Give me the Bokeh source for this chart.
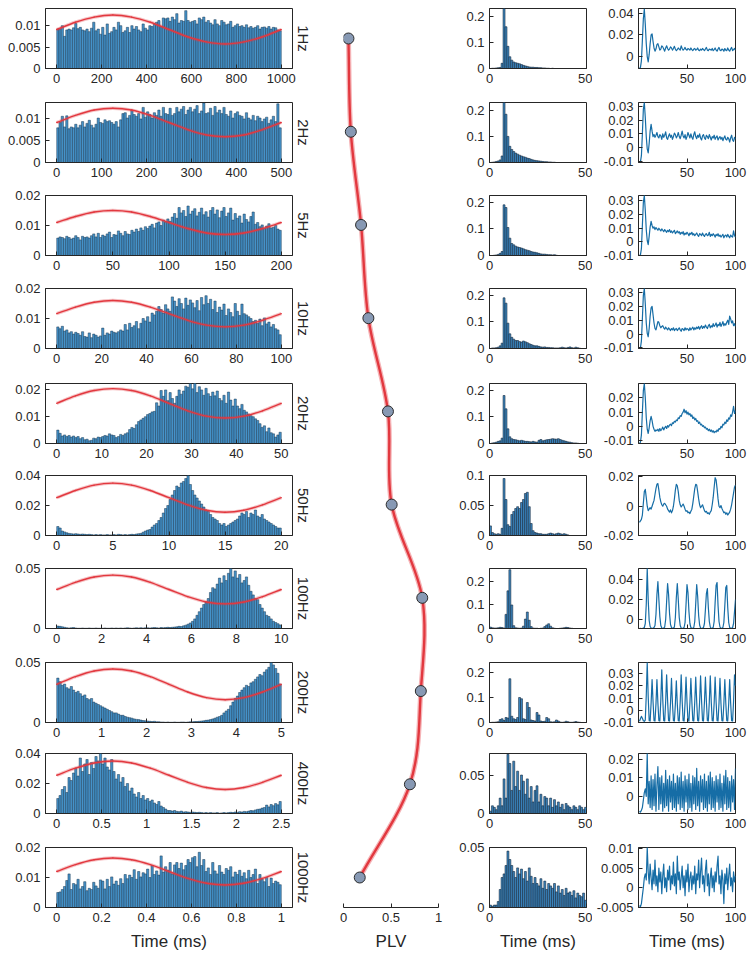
import numpy as np
from bokeh.plotting import figure
from bokeh.layouts import row, column
from bokeh.models import Range1d, FixedTicker, Title, CustomJSTickFormatter
from bokeh.embed import file_html
from bokeh.resources import INLINE

# ---------------- data ----------------
rate_labels = ["1Hz", "2Hz", "5Hz", "10Hz", "20Hz", "50Hz", "100Hz", "200Hz", "400Hz", "1000Hz"]

# column 1: spike-phase histograms (one stimulus period), values x 1e-4
phase_span = [1000, 500, 200, 100, 50, 20, 10, 5, 2.5, 1]
phase_xstep = [200, 100, 50, 20, 10, 5, 2, 1, 0.5, 0.2]
phase_ytop = [0.014, 0.0135, 0.02, 0.02, 0.0224, 0.04, 0.05, 0.05, 0.04, 0.02]
phase_yticks = [[0, 0.005, 0.01], [0, 0.005, 0.01], [0, 0.01, 0.02], [0, 0.01, 0.02],
                [0, 0.01, 0.02], [0, 0.02, 0.04], [0, 0.05], [0, 0.05],
                [0, 0.02, 0.04], [0, 0.01, 0.02]]

ph_1 = [92, 93, 100, 75, 90, 92, 90, 95, 105, 93, 96, 90, 88, 92, 86, 94, 108, 88, 92, 80,
        96, 78, 104, 82, 86, 96, 90, 108, 100, 84, 88, 96, 84, 100, 92, 98, 90, 86, 104, 94,
        90, 100, 98, 104, 108, 112, 98, 118, 116, 118, 110, 120, 114, 128, 106, 112, 110, 135, 112, 108,
        110, 112, 104, 118, 114, 120, 108, 112, 106, 102, 114, 104, 100, 112, 108, 102, 104, 110, 96, 100,
        104, 98, 100, 96, 102, 95, 98, 94, 96, 100, 92, 96, 97, 94, 98, 92, 96, 95, 90, 88]
ph_2 = [78, 90, 104, 80, 105, 76, 80, 78, 86, 78, 84, 92, 80, 88, 95, 84, 78, 86, 100, 90,
        88, 96, 92, 94, 90, 86, 92, 80, 96, 110, 112, 100, 106, 118, 108, 104, 110, 98, 124, 102,
        114, 108, 100, 112, 106, 118, 104, 124, 110, 108, 122, 106, 110, 124, 114, 120, 126, 108, 118, 124,
        114, 120, 128, 110, 116, 134, 110, 112, 122, 106, 126, 112, 118, 110, 124, 108, 104, 116, 100, 110,
        114, 106, 104, 98, 112, 100, 96, 106, 94, 104, 100, 92, 98, 102, 88, 96, 104, 92, 132, 78]
ph_3 = [58, 62, 60, 56, 64, 60, 55, 58, 66, 60, 52, 64, 60, 62, 58, 66, 72, 62, 74, 60,
        68, 64, 72, 78, 60, 70, 68, 82, 74, 66, 80, 72, 70, 84, 78, 88, 80, 92, 84, 96,
        90, 98, 104, 92, 108, 112, 100, 118, 110, 122, 114, 128, 140, 124, 160, 142, 150, 130, 165, 138,
        148, 156, 132, 144, 158, 136, 146, 128, 150, 160, 138, 152, 126, 148, 160, 130, 142, 158, 118, 140,
        124, 132, 108, 138, 120, 112, 130, 145, 104, 110, 96, 102, 90, 98, 106, 92, 94, 100, 88, 84]
ph_4 = [72, 66, 74, 58, 62, 52, 56, 48, 54, 50, 44, 56, 40, 38, 52, 36, 48, 44, 38, 42,
        68, 44, 52, 48, 58, 54, 52, 56, 62, 58, 80, 62, 84, 70, 76, 90, 66, 84, 100, 92,
        106, 88, 118, 112, 124, 140, 130, 118, 146, 132, 124, 172, 158, 140, 166, 150, 132, 168, 144, 162,
        152, 136, 160, 126, 170, 146, 176, 150, 164, 130, 158, 120, 138, 128, 148, 110, 132, 120, 106, 150,
        124, 110, 148, 116, 112, 106, 100, 90, 94, 84, 98, 76, 102, 82, 88, 72, 80, 66, 62, 46]
ph_5 = [50, 38, 28, 32, 26, 30, 24, 28, 22, 26, 18, 22, 14, 16, 10, 12, 20, 18, 24, 22,
        26, 30, 28, 36, 32, 30, 22, 26, 34, 30, 36, 40, 52, 60, 56, 70, 82, 88, 94, 100,
        108, 112, 118, 120, 152, 140, 198, 176, 200, 160, 190, 168, 150, 176, 200, 184, 196, 214, 210, 224,
        204, 226, 190, 212, 200, 180, 206, 186, 176, 192, 178, 196, 168, 160, 180, 150, 192, 162, 140, 166,
        140, 130, 146, 124, 118, 110, 104, 100, 92, 86, 74, 60, 66, 44, 58, 40, 36, 24, 32, 42]
ph_6 = [60, 50, 30, 24, 18, 14, 12, 10, 12, 10, 8, 10, 8, 6, 8, 6, 4, 6, 4, 6,
        4, 4, 6, 4, 4, 6, 4, 8, 6, 4, 6, 4, 6, 8, 6, 10, 12, 14, 22, 30,
        36, 40, 56, 70, 80, 100, 120, 150, 180, 200, 240, 270, 300, 330, 320, 350, 360, 380, 400, 340,
        300, 270, 250, 230, 210, 190, 170, 160, 140, 120, 110, 100, 80, 70, 80, 60, 70, 80, 90, 100,
        110, 130, 150, 140, 160, 120, 150, 140, 170, 130, 120, 140, 110, 100, 90, 80, 70, 60, 50, 50]
ph_7 = [20, 18, 14, 10, 6, 4, 6, 8, 4, 2, 2, 4, 2, 2, 4, 2, 2, 4, 2, 2,
        2, 4, 2, 2, 4, 2, 4, 2, 4, 2, 4, 6, 4, 2, 4, 6, 4, 6, 4, 6,
        6, 4, 6, 8, 6, 4, 8, 6, 8, 10, 8, 10, 12, 14, 18, 16, 22, 28, 36, 46,
        60, 80, 110, 140, 170, 200, 220, 250, 300, 340, 330, 370, 420, 380, 440, 400, 460, 500, 430, 480,
        420, 450, 380, 400, 430, 360, 310, 280, 250, 240, 200, 170, 140, 110, 100, 80, 60, 50, 40, 30]
ph_8 = [370, 340, 310, 320, 290, 280, 300, 270, 250, 260, 240, 220, 230, 200, 190, 200, 170, 160, 150, 140,
        130, 120, 110, 100, 90, 80, 80, 70, 60, 60, 50, 44, 40, 36, 30, 26, 24, 20, 16, 14,
        12, 10, 8, 10, 6, 6, 4, 4, 2, 4, 2, 2, 4, 2, 2, 4, 4, 2, 4, 6,
        6, 8, 8, 10, 12, 14, 18, 20, 24, 30, 36, 44, 50, 60, 80, 96, 110, 140, 170, 200,
        220, 250, 270, 290, 310, 300, 330, 340, 360, 380, 400, 390, 420, 440, 460, 500, 480, 450, 410, 320]
ph_9 = [100, 120, 160, 180, 140, 240, 220, 270, 300, 250, 370, 280, 330, 360, 260, 340, 300, 380, 350, 400,
        330, 370, 310, 290, 360, 280, 230, 260, 210, 240, 180, 200, 150, 170, 130, 110, 140, 100, 120, 90,
        100, 80, 90, 70, 60, 80, 50, 40, 30, 20, 20, 16, 20, 14, 12, 16, 10, 12, 10, 8,
        10, 8, 6, 8, 6, 4, 6, 4, 6, 4, 4, 6, 2, 4, 6, 4, 6, 8, 6, 10,
        8, 12, 10, 14, 12, 16, 20, 18, 24, 28, 30, 36, 40, 56, 44, 60, 52, 66, 58, 80]
ph_10 = [50, 52, 60, 70, 90, 112, 60, 80, 76, 94, 62, 70, 86, 56, 64, 60, 84, 72, 64, 92,
         88, 62, 94, 70, 102, 78, 88, 74, 96, 80, 110, 96, 108, 100, 126, 94, 120, 102, 116, 112,
         128, 100, 140, 110, 122, 108, 172, 118, 136, 124, 150, 112, 142, 150, 130, 148, 126, 140, 160, 150,
         166, 170, 136, 184, 140, 160, 120, 132, 110, 150, 122, 112, 140, 118, 110, 130, 124, 136, 102, 118,
         110, 124, 104, 116, 96, 124, 100, 110, 128, 80, 110, 94, 86, 100, 70, 98, 80, 88, 84, 76]
phase_hists = [ph_1, ph_2, ph_3, ph_4, ph_5, ph_6, ph_7, ph_8, ph_9, ph_10]

# red fitted curve, sampled at 13 evenly spaced phases, x 1e-4
fit_1 = [91, 108, 120, 125, 120, 108, 91, 74, 62, 57, 62, 74, 91]
fit_2 = [90, 106, 118, 122, 118, 106, 90, 74, 62, 58, 62, 74, 90]
fit_3 = [110, 130, 145, 150, 145, 130, 110, 90, 75, 70, 75, 90, 110]
fit_4 = [116, 138, 154, 160, 154, 138, 116, 94, 78, 72, 78, 94, 116]
fit_5 = [150, 178, 198, 205, 198, 178, 150, 122, 102, 95, 102, 122, 150]
fit_6 = [252, 300, 336, 349, 336, 300, 252, 204, 168, 155, 168, 204, 252]
fit_7 = [325, 385, 429, 445, 429, 385, 325, 265, 221, 205, 221, 265, 325]
fit_8 = [318, 382, 429, 446, 429, 382, 318, 254, 207, 190, 207, 254, 318]
fit_9 = [255, 302, 337, 350, 337, 302, 255, 208, 173, 160, 173, 208, 255]
fit_10 = [120, 143, 159, 165, 159, 143, 120, 97, 81, 75, 81, 97, 120]
phase_fits = [fit_1, fit_2, fit_3, fit_4, fit_5, fit_6, fit_7, fit_8, fit_9, fit_10]

# column 2: phase-locking value per stimulation rate
plv = [0.052, 0.077, 0.185, 0.262, 0.468, 0.507, 0.829, 0.814, 0.699, 0.171]

# column 3: inter-spike-interval histograms, 1 ms bins 0-50 ms, values x 1e-3
isi_ytop = [0.23, 0.23, 0.225, 0.225, 0.225, 0.1, 0.255, 0.24, 0.078, 0.05]
isi_yticks = [[0, 0.1, 0.2]] * 5 + [[0, 0.05, 0.1], [0, 0.1, 0.2], [0, 0.1, 0.2], [0, 0.05], [0, 0.05]]
isi_1 = [0, 1, 1, 2, 3, 4, 20, 230, 160, 85, 45, 32, 25, 22, 20, 18, 15, 12, 10, 8,
         6, 5, 5, 4, 4, 3, 3, 2, 2, 1, 1, 0, 1, 0, 0, 0, 0, 0, 0, 0, 0, 0, 0, 0, 0, 0, 0, 0, 0, 0]
isi_2 = [0, 1, 2, 4, 6, 10, 25, 230, 185, 100, 62, 50, 42, 36, 32, 28, 25, 22, 20, 17,
         15, 12, 10, 8, 7, 6, 5, 4, 3, 3, 2, 2, 1, 1, 0, 0, 0, 0, 0, 0, 0, 0, 0, 0, 0, 0, 0, 0, 0, 0]
isi_3 = [0, 0, 1, 2, 4, 8, 15, 190, 180, 105, 65, 45, 40, 35, 32, 30, 28, 25, 22, 20,
         18, 15, 13, 12, 10, 8, 6, 5, 5, 4, 3, 3, 2, 3, 1, 0, 0, 0, 0, 0, 0, 0, 0, 0, 0, 0, 0, 0, 0, 0]
isi_4 = [0, 2, 2, 3, 5, 10, 20, 190, 170, 95, 55, 42, 35, 30, 30, 26, 24, 28, 25, 22,
         18, 15, 12, 10, 10, 8, 6, 5, 6, 4, 4, 3, 3, 2, 2, 2, 3, 5, 3, 2, 4, 6, 3, 2, 5, 3, 1, 0, 0, 0]
isi_5 = [0, 2, 3, 5, 8, 10, 20, 180, 130, 55, 25, 18, 15, 14, 12, 10, 12, 10, 8, 8,
         7, 6, 8, 6, 5, 12, 15, 10, 12, 14, 15, 16, 18, 17, 16, 18, 15, 12, 10, 8, 6, 5, 3, 2, 2, 1, 0, 0, 0, 0]
isi_6 = [16, 5, 3, 2, 3, 2, 12, 95, 60, 18, 15, 35, 40, 45, 48, 45, 55, 60, 70, 72,
         48, 20, 8, 5, 4, 3, 3, 2, 2, 2, 3, 4, 3, 2, 3, 4, 3, 2, 3, 2, 1, 0, 0, 0, 0, 0, 0, 0, 0, 0]
isi_7 = [6, 3, 2, 2, 3, 5, 4, 2, 60, 160, 250, 100, 12, 3, 2, 1, 2, 10, 40, 70,
         35, 8, 2, 1, 1, 0, 1, 2, 8, 15, 20, 10, 3, 1, 0, 0, 1, 2, 3, 5, 4, 2, 1, 0, 0, 0, 0, 0, 0, 0]
isi_8 = [0, 1, 1, 2, 3, 12, 15, 8, 20, 18, 175, 25, 15, 12, 20, 100, 95, 15, 12, 80,
         60, 10, 8, 6, 40, 30, 6, 4, 5, 20, 15, 3, 2, 3, 10, 6, 2, 1, 2, 5, 3, 1, 1, 2, 4, 2, 1, 0, 0, 0]
isi_9 = [3, 10, 8, 5, 10, 20, 10, 45, 20, 77, 65, 30, 68, 35, 55, 30, 50, 42, 25, 45,
         20, 35, 15, 30, 36, 15, 25, 10, 22, 20, 10, 20, 8, 18, 10, 15, 8, 12, 5, 13,
         10, 8, 5, 10, 8, 5, 10, 8, 5, 8]
isi_10 = [2, 1, 2, 2, 5, 15, 25, 28, 35, 47, 40, 35, 30, 25, 33, 28, 32, 24, 30, 22,
          33, 26, 20, 25, 20, 18, 24, 16, 22, 15, 20, 18, 16, 20, 13, 18, 12, 15, 10, 16,
          12, 13, 10, 14, 8, 12, 10, 9, 12, 6]
isi_hists = [isi_1, isi_2, isi_3, isi_4, isi_5, isi_6, isi_7, isi_8, isi_9, isi_10]

# column 4: autocorrelation traces, 1 ms steps 1-100 ms, values x 1e-4
ac_yrange = [(-0.011, 0.0445), (-0.011, 0.033), (-0.01, 0.034), (-0.0105, 0.033), (-0.012, 0.03),
             (-0.02, 0.021), (-0.009, 0.051), (-0.01, 0.039), (-0.0092, 0.023), (-0.005, 0.0102)]
ac_yticks = [[0, 0.02, 0.04], [-0.01, 0, 0.01, 0.02, 0.03], [-0.01, 0, 0.01, 0.02, 0.03],
             [-0.01, 0, 0.01, 0.02, 0.03], [-0.01, 0, 0.01, 0.02], [-0.02, 0, 0.02],
             [0, 0.02, 0.04], [-0.01, 0, 0.01, 0.02, 0.03], [0, 0.01, 0.02], [-0.005, 0, 0.005, 0.01]]
ac_1 = [-110, -100, -40, 150, 350, 440, 300, 120, 0, -50, 20, 120, 200, 210, 140, 80, 50, 70, 110, 120,
        90, 60, 70, 100, 90, 70, 50, 80, 100, 75, 60, 70, 90, 80, 60, 75, 95, 70, 55, 65,
        80, 70, 60, 100, 75, 60, 70, 85, 65, 60, 75, 70, 60, 80, 65, 55, 70, 75, 60, 65,
        80, 60, 55, 70, 60, 75, 65, 55, 70, 85, 60, 55, 70, 65, 60, 75, 55, 65, 80, 60,
        50, 70, 85, 60, 55, 70, 65, 50, 75, 60, 55, 80, 60, 50, 70, 85, 55, 65, 75, 60]
ac_2 = [-110, -105, -60, 100, 280, 330, 220, 80, -10, -40, 30, 120, 170, 120, 80, 95, 75, 90, 110, 80,
        70, 95, 85, 60, 100, 75, 90, 115, 70, 60, 85, 100, 75, 90, 60, 80, 105, 95, 70, 85,
        110, 80, 65, 90, 120, 85, 70, 95, 60, 80, 110, 90, 70, 100, 75, 60, 95, 115, 80, 65,
        90, 75, 100, 70, 55, 85, 95, 70, 60, 90, 80, 65, 95, 75, 55, 80, 70, 90, 60, 75,
        85, 55, 70, 80, 60, 75, 50, 70, 85, 60, 55, 75, 65, 40, 70, 90, 55, 45, 75, 60]
ac_3 = [-100, -95, -50, 120, 290, 340, 230, 90, 10, -20, 40, 110, 150, 120, 100, 110, 90, 105, 95, 85,
        100, 90, 80, 95, 85, 75, 90, 80, 70, 85, 75, 90, 70, 80, 65, 75, 85, 60, 70, 80,
        65, 75, 55, 70, 60, 75, 50, 65, 55, 70, 60, 45, 65, 55, 70, 50, 60, 45, 55, 65,
        50, 40, 60, 55, 45, 65, 50, 40, 55, 60, 45, 50, 70, 40, 55, 45, 60, 50, 35, 55,
        45, 60, 40, 50, 35, 45, 55, 30, 45, 50, 35, 55, 40, 30, 50, 40, 35, 80, 45, 35]
ac_4 = [-105, -100, -50, 110, 280, 330, 220, 80, 5, -20, 40, 130, 190, 200, 140, 80, 40, 30, 60, 90,
        85, 60, 45, 55, 60, 45, 35, 50, 40, 30, 45, 35, 25, 40, 30, 45, 25, 35, 40, 25,
        35, 45, 30, 20, 40, 35, 25, 45, 30, 40, 35, 25, 45, 30, 40, 50, 30, 45, 35, 50,
        40, 55, 35, 50, 60, 40, 55, 45, 65, 50, 40, 60, 70, 45, 60, 50, 75, 55, 65, 80,
        50, 70, 60, 85, 55, 70, 90, 60, 75, 65, 85, 100, 70, 130, 110, 80, 95, 60, 75, 55]
ac_5 = [-120, -110, -60, 100, 250, 300, 200, 60, -20, -50, -10, 40, 70, 40, 0, -20, -35, -25, -30, -20,
        -35, -15, -30, -20, -5, -25, -10, 0, -15, 5, -5, 10, 15, 5, 25, 20, 35, 30, 45, 40,
        60, 55, 75, 70, 90, 100, 120, 95, 110, 85, 100, 80, 90, 70, 80, 55, 65, 45, 55, 35,
        40, 20, 30, 10, 15, 0, 5, -10, -5, -20, -15, -30, -20, -35, -25, -40, -30, -45, -35, -40,
        -25, -35, -15, -20, 0, -10, 15, 10, 30, 20, 45, 35, 60, 50, 80, 70, 100, 140, 90, 110]
ac_6 = [-110, -100, -90, -60, 20, 100, 115, 60, 0, -30, -20, -10, -20, 0, 20, 40, 80, 120, 150, 155,
        110, 60, 30, 10, 0, 15, 20, 10, 0, -20, -30, -40, -25, -45, -30, 0, 50, 110, 150, 140,
        100, 40, 10, -5, 5, 15, 0, -20, -35, -30, -45, -40, -50, -35, -20, 20, 70, 120, 150, 145,
        100, 50, 10, -10, 0, 10, -10, -30, -40, -35, -50, -45, -55, -40, -30, 10, 60, 130, 195, 180,
        120, 50, 0, -10, 5, -15, -30, -45, -40, -55, -45, -60, -50, -40, -20, 10, 50, 90, 130, 145]
ac_7 = [-90, -88, -90, -88, -85, -80, -40, 150, 510, 200, -10, -70, -85, -88, -85, -80, -60, 50, 250, 380,
        200, 30, -60, -85, -88, -85, -75, 0, 180, 360, 250, 60, -50, -80, -88, -85, -75, 20, 220, 360,
        200, 20, -60, -85, -88, -85, -80, -30, 150, 350, 270, 80, -40, -80, -88, -85, -80, -20, 160, 350,
        230, 40, -55, -85, -88, -85, -80, -40, 100, 260, 310, 120, -20, -75, -88, -85, -80, -20, 170, 340,
        370, 140, -20, -75, -88, -85, -80, -30, 140, 320, 340, 120, -30, -80, -88, -85, -80, -40, 80, 200]
ac_8 = [-90, -70, -50, -65, -85, -90, -80, 120, 390, 110, -85, -88, 60, 250, 70, -85, -88, 50, 250, 60,
        -85, -88, 80, 330, 90, -85, -88, 70, 290, 80, -85, -88, 60, 260, 60, -85, -88, 50, 240, 50,
        -85, -88, 70, 290, 80, -85, -88, 60, 270, 70, -85, -88, 60, 260, 70, -85, -88, 70, 270, 70,
        -85, -88, 70, 280, 80, -85, -88, 70, 270, 70, -85, -88, 70, 280, 70, -85, -88, 60, 270, 70,
        -85, -88, 60, 260, 60, -85, -88, 55, 250, 60, -85, -88, 55, 250, 60, -85, -88, 70, 290, 200]
ac_9 = [-80, -85, -75, -60, -20, 20, 40, 0, 230, -40, 80, -60, 110, -70, 90, -50, 120, -80, 60, 160,
        -70, 100, -40, 110, -80, 70, -60, 140, -50, 90, -80, 110, -30, 80, -70, 120, -60, 70, -80, 110,
        -40, 100, -70, 130, -60, 80, -80, 110, -30, 90, -70, 120, -60, 70, -80, 110, -40, 100, -70, 150,
        -50, 80, -80, 110, -30, 90, -70, 120, -60, 80, -80, 110, -40, 130, -70, 100, -60, 80, -80, 110,
        -30, 90, -70, 120, -60, 70, -80, 110, -40, 140, -70, 100, -60, 80, -80, 110, -30, 90, -70, 150]
ac_10 = [-45, -48, -40, -20, 0, 25, 35, 20, 102, 40, 10, 60, 25, -5, 45, 10, 70, 5, 30, -10,
         50, 15, 40, -15, 30, 60, 0, 25, -10, 45, 20, 55, -5, 30, 10, 65, 5, 35, -15, 80,
         20, 40, -5, 25, 55, 0, 30, -20, 45, 15, 60, -10, 25, 40, -5, 30, 10, 55, -15, 35,
         20, 70, 0, 40, 75, 10, 30, -10, 45, 70, 5, 35, -20, 25, 50, 0, 30, -10, 40, 15,
         55, 80, 10, 30, -15, 45, 20, -40, 35, 10, 50, -5, 30, 60, 5, 25, -10, 40, 15, 30]
ac_traces = [ac_1, ac_2, ac_3, ac_4, ac_5, ac_6, ac_7, ac_8, ac_9, ac_10]

# ---------------- style / layout ----------------
FONT = "Liberation Sans"
INK = "#262626"
BAR_FILL = "#4593CA"
BAR_LINE = "#1B3852"
RED = "#E2383F"
RED_HALO = "#F5B3B6"
TRACE = "#166DA6"

ROW_H = [94, 93, 93, 95, 92, 93, 94, 91, 94, 118]   # figure heights of the 10 rows
TOP_B = 8
FRAME_H = 60
TOTAL_H = sum(ROW_H)
LAST_BOTTOM = ROW_H[-1] - TOP_B - FRAME_H

fmt = CustomJSTickFormatter(code="""
if (Math.abs(tick) < 1e-12) { return '0'; }
return String(parseFloat(tick.toPrecision(6)));
""")


def smooth_curve(p, xs, ys, width, color, alpha=1.0, cap="round"):
    """Draw a smooth curve through the given points (Catmull-Rom drawn as Bezier segments)."""
    xs = np.asarray(xs, float)
    ys = np.asarray(ys, float)
    xp = np.concatenate([[2 * xs[0] - xs[1]], xs, [2 * xs[-1] - xs[-2]]])
    yp = np.concatenate([[2 * ys[0] - ys[1]], ys, [2 * ys[-1] - ys[-2]]])
    i = np.arange(len(xs) - 1)
    p.bezier(x0=xp[i + 1], y0=yp[i + 1], x1=xp[i + 2], y1=yp[i + 2],
             cx0=xp[i + 1] + (xp[i + 2] - xp[i]) / 6, cy0=yp[i + 1] + (yp[i + 2] - yp[i]) / 6,
             cx1=xp[i + 2] - (xp[i + 3] - xp[i + 1]) / 6, cy1=yp[i + 2] - (yp[i + 3] - yp[i + 1]) / 6,
             line_color=color, line_width=width, line_alpha=alpha, line_cap=cap)


def style(p, xticks, yticks, xlabel=None):
    p.xgrid.visible = False
    p.ygrid.visible = False
    p.outline_line_color = INK
    p.outline_line_width = 1
    for ax in (p.xaxis[0], p.yaxis[0]):
        ax.major_tick_in = 4
        ax.major_tick_out = 0
        ax.minor_tick_line_color = None
        ax.axis_line_color = INK
        ax.major_tick_line_color = INK
        ax.major_label_text_font = FONT
        ax.major_label_text_font_size = "13px"
        ax.major_label_text_color = INK
        ax.formatter = fmt
    p.xaxis[0].ticker = FixedTicker(ticks=xticks)
    p.yaxis[0].ticker = FixedTicker(ticks=yticks)
    p.xaxis[0].major_label_standoff = 5
    p.yaxis[0].major_label_standoff = 5
    if xlabel:
        ax = p.xaxis[0]
        ax.axis_label = xlabel
        ax.axis_label_text_font = FONT
        ax.axis_label_text_font_size = "17px"
        ax.axis_label_text_font_style = "normal"
        ax.axis_label_text_color = INK
        ax.axis_label_standoff = 7


def make_fig(width, h, left, right, xr, yr, bottom):
    return figure(width=width, height=h, x_range=xr, y_range=yr,
                  min_border_left=left, min_border_right=right,
                  min_border_top=TOP_B, min_border_bottom=bottom,
                  output_backend="svg", toolbar_location=None)


left_figs, isi_figs, ac_figs = [], [], []
for i in range(10):
    h = ROW_H[i]
    bottom = h - TOP_B - FRAME_H
    last = i == 9
    xl = "Time (ms)" if last else None
    # ---- column 1
    T = phase_span[i]
    p = make_fig(318, h, 45, 26, Range1d(-0.05 * T, 1.05 * T), Range1d(0, phase_ytop[i]), bottom)
    vals = np.array(phase_hists[i]) * 1e-4
    edges = np.linspace(0, T, len(vals) + 1)
    p.quad(left=edges[:-1], right=edges[1:], bottom=0, top=vals,
           fill_color=BAR_FILL, line_color=BAR_LINE, line_width=0.5)
    fv = np.array(phase_fits[i]) * 1e-4
    fx = np.linspace(0, T, len(fv))
    smooth_curve(p, fx, fv, 3.4, RED, alpha=0.3, cap="butt")
    smooth_curve(p, fx, fv, 1.4, RED)
    xt = list(np.round(np.arange(0, T + 1e-9, phase_xstep[i]), 6))
    style(p, xt, phase_yticks[i], xl)
    p.add_layout(Title(text=rate_labels[i], align="center", text_font=FONT, text_font_size="15px",
                       text_font_style="normal", text_color=INK, standoff=4), "right")
    left_figs.append(p)

    # ---- column 3
    q = make_fig(142, h, 39, 6, Range1d(0, 50), Range1d(0, isi_ytop[i]), bottom)
    iv = np.array(isi_hists[i]) * 1e-3
    ie = np.arange(len(iv) + 1)
    q.quad(left=ie[:-1], right=ie[1:], bottom=0, top=iv,
           fill_color="#3C88C2", line_color="#15293C", line_width=0.6)
    style(q, [0, 50], isi_yticks[i], xl)
    isi_figs.append(q)

    # ---- column 4
    r = make_fig(156, h, 46, 13, Range1d(0, 100), Range1d(*ac_yrange[i]), bottom)
    av = np.array(ac_traces[i]) * 1e-4
    axx = np.arange(1, len(av) + 1)
    r.line(axx, av, line_color=TRACE, line_width=1.2, line_join="round")
    style(r, [50, 100], ac_yticks[i], xl)
    ac_figs.append(r)

# ---- column 2: PLV (one point per row, at the row's vertical centre)
starts = np.concatenate([[0], np.cumsum(ROW_H)[:-1]])
centres = starts + TOP_B + FRAME_H / 2
pitch = (centres[-1] - centres[0]) / 9
plv_frame_h = TOTAL_H - TOP_B - LAST_BOTTOM
y_top = -(centres[0] - TOP_B) / pitch
y_bot = y_top + plv_frame_h / pitch
pv = make_fig(132, TOTAL_H, 25, 12, Range1d(0, 1), Range1d(y_bot, y_top), LAST_BOTTOM)
ys = list(range(len(plv)))
smooth_curve(pv, plv, ys, 5, RED_HALO)
smooth_curve(pv, plv, ys, 2.4, RED)
pv.scatter(plv, ys, size=11, fill_color="#8799B4", line_color="#2B2B2B", line_width=1)
style(pv, [0, 0.5, 1], [0], "PLV")
pv.outline_line_color = None
pv.yaxis.visible = False

layout = row(column(*left_figs), pv, column(*isi_figs), column(*ac_figs))

with open("out.html", "w") as f:
    f.write(file_html(layout, INLINE, title="Phase locking"))
